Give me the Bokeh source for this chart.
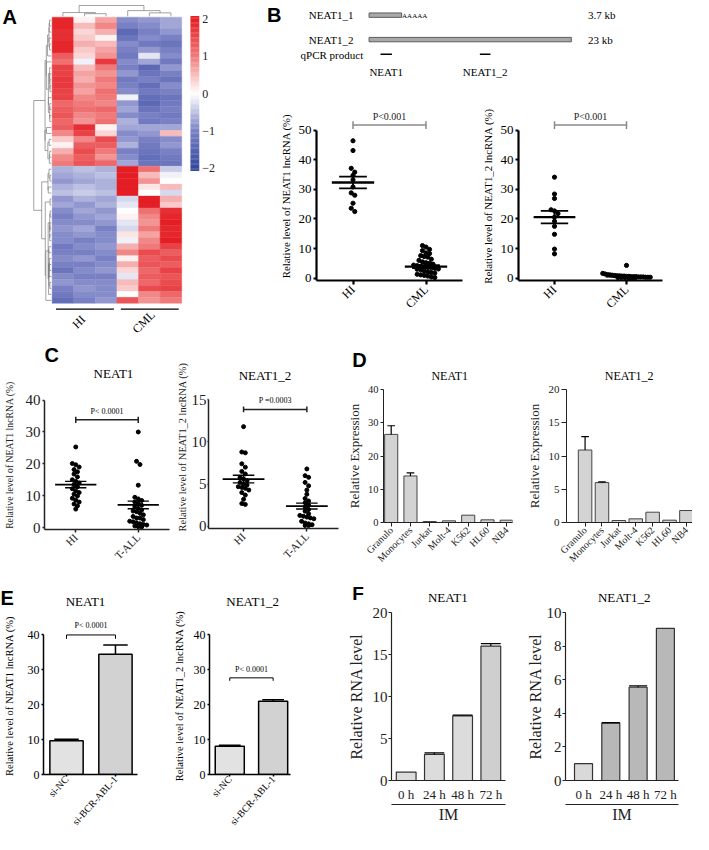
import numpy as np
from math import pi, radians
from bokeh.plotting import figure
from bokeh.models import Range1d, FixedTicker, Label, LinearAxis, ColumnDataSource
from bokeh.layouts import row, column
from bokeh.transform import linear_cmap
from bokeh.embed import file_html
from bokeh.resources import INLINE
from bokeh.core.properties import value

SERIF = "Liberation Serif"
SANS = "Liberation Sans"

# ============================ DATA ============================
# A: z-scored expression heatmap (rows = lncRNAs, columns = samples)
heat_samples = ["HI-1", "HI-2", "HI-3", "CML-1", "CML-2", "CML-3"]
heat_groups = ["HI", "CML"]
heat_group_sizes = [3, 3]
heat_rows = [
    [1.9, 0.1, 0.7, -0.9, -0.8, -0.7],
    [1.9, 0.5, 0.9, -1.0, -0.9, -0.7],
    [1.8, 0.3, 0.6, -1.4, -1.0, -0.8],
    [1.8, 0.4, 0.1, -1.2, -0.9, -1.0],
    [1.9, 0.6, 0.5, -0.9, -1.1, -1.2],
    [1.9, 0.4, 0.7, -1.0, -0.8, -1.0],
    [1.3, 0.3, 0.8, -1.1, -0.2, -0.9],
    [1.1, -0.1, 1.7, -0.9, -0.7, -1.1],
    [1.6, 0.5, 1.0, -1.0, -1.4, -0.8],
    [1.6, 0.7, 0.8, -0.8, -1.2, -1.0],
    [1.7, 0.6, 1.0, -1.1, -1.0, -1.2],
    [1.7, 0.8, 0.9, -1.0, -1.3, -0.9],
    [1.6, 0.7, 1.1, -0.9, -1.1, -1.0],
    [1.6, 0.9, 1.0, -0.1, -1.3, -1.2],
    [1.2, 1.0, 0.9, -0.8, -1.4, -1.1],
    [1.3, 1.1, 1.2, -0.7, -1.2, -1.0],
    [1.4, 0.9, 1.0, -0.9, -1.0, -1.1],
    [1.2, 0.8, 1.1, -0.6, -1.1, -1.0],
    [1.3, 1.8, 0.1, -0.7, -0.7, -0.7],
    [0.9, 1.6, 0.3, -0.9, -0.8, 0.5],
    [0.4, 0.9, 1.5, -0.8, -1.0, -0.9],
    [0.1, 1.3, 1.3, -0.6, -1.1, -0.8],
    [0.6, 1.5, 1.0, -1.0, -1.2, -1.0],
    [0.9, 1.3, 0.8, -0.9, -1.3, -1.1],
    [1.0, 1.4, 1.2, -0.7, -1.2, -1.2],
    [-0.6, -0.5, -0.6, 2.0, 1.1, -0.4],
    [-0.7, -0.6, -0.5, 2.0, 0.5, -0.1],
    [-0.8, -0.7, -0.6, 2.0, 0.8, 0.0],
    [-0.6, -0.5, -0.6, 2.0, 0.2, 0.5],
    [-0.5, -0.4, -0.5, 2.0, 0.0, -0.3],
    [-0.8, -0.6, -0.7, -0.3, 2.0, 0.6],
    [-0.7, -0.8, -0.6, -0.2, 2.0, 0.4],
    [-0.9, -0.7, -0.8, 0.0, 1.1, 1.8],
    [-1.0, -0.8, -0.7, 0.1, 0.9, 1.9],
    [-0.9, -0.9, -0.8, -0.2, 0.8, 2.0],
    [-0.8, -0.7, -1.0, -0.3, 1.0, 1.9],
    [-0.9, -0.8, -0.9, 0.2, 0.7, 1.9],
    [-0.9, -1.0, -0.9, -0.1, 0.9, 2.0],
    [-1.1, -0.9, -0.8, 0.6, 1.0, 1.6],
    [-1.0, -1.0, -0.9, 0.9, 1.5, 1.3],
    [-0.9, -0.8, -1.0, 0.1, 1.3, 1.5],
    [-1.0, -1.0, -0.9, 0.6, 1.4, 1.3],
    [-1.2, -0.9, -0.8, 0.3, 1.2, 1.6],
    [-0.9, -1.0, -1.0, -0.2, 1.3, 1.4],
    [-0.8, -0.9, -0.9, 0.5, 1.2, 1.5],
    [-1.0, -0.8, -0.9, 0.4, 1.5, 1.6],
    [-1.1, -0.9, -0.9, 0.0, 0.9, 1.2],
    [-1.3, -1.0, -0.8, 1.4, 0.8, 1.0],
]
heat_scale_ticks = [2, 1, 0, -1, -2]
heat_scale_text = ["2", "1", "0", "\u22121", "\u22122"]

# B (top): NEAT1 isoforms and qPCR amplicons
iso_names = ["NEAT1_1", "NEAT1_2"]
iso_len_kb = [3.7, 23.0]
iso_len_text = ["3.7 kb", "23  kb"]
amp_names = ["NEAT1", "NEAT1_2"]
amp_start_kb = [1.3, 12.6]
amp_end_kb = [2.6, 13.8]

# B (bottom): HI vs CML
B_groups = ["HI", "CML"]
B_neat1_HI = [46.4, 43.1, 37.1, 35.8, 34.7, 33.2, 30.8, 28.8, 28.0, 25.3, 23.6, 22.5]
B_neat1_CML = [11.0, 10.5, 9.7, 9.3, 8.5, 8.3, 7.6, 7.3, 7.1, 6.4, 6.0, 5.5, 5.2, 5.0, 4.7,
               4.4, 4.2, 4.0, 3.8, 3.6, 3.5, 3.3, 3.1, 3.0, 2.8, 2.4, 2.1, 1.9, 1.7, 1.3,
               1.1, 0.9, 0.7, 0.4, 0.2]
B_neat1_mean = [32.3, 3.9]
B_neat1_sem = [2.0, 0.5]
B_neat12_HI = [34.1, 28.4, 26.9, 23.1, 22.7, 21.8, 20.6, 19.2, 17.5, 14.8, 9.8, 8.2]
B_neat12_CML = [4.3, 1.6, 1.4, 1.2, 1.1, 1.0, 0.9, 0.8, 0.8, 0.7, 0.7, 0.6, 0.6, 0.5, 0.5,
                0.5, 0.4, 0.4, 0.4, 0.3, 0.3, 0.3, 0.2, 0.2, 0.2, 0.1, 0.1, 0.1]
B_neat12_mean = [20.6, 0.6]
B_neat12_sem = [2.1, 0.15]
B_p_text = "P<0.001"

# C: HI vs T-ALL
C_groups = ["HI", "T-ALL"]
C_neat1_HI = [25.3, 20.1, 19.7, 19.0, 18.2, 17.5, 16.8, 15.9, 15.0, 14.5, 14.0, 13.5,
              12.8, 12.2, 11.5, 11.0, 10.5, 9.9, 9.2, 8.6, 8.0, 7.4, 6.8, 5.8]
C_neat1_TALL = [30.0, 20.8, 19.8, 13.3, 9.5, 9.0, 8.5, 8.0, 7.5, 7.0, 6.5, 6.0, 5.5, 5.2,
                5.0, 4.5, 4.0, 3.5, 3.0, 3.0, 2.5, 2.0, 1.8, 1.5, 1.2, 1.0, 0.8, 0.5, 0.3, 0.2]
C_neat1_mean = [13.5, 7.1]
C_neat1_sem = [1.0, 1.2]
C_neat12_HI = [11.8, 8.8, 8.7, 7.4, 7.0, 6.5, 6.2, 5.8, 5.6, 5.4, 5.2, 5.0, 4.9, 4.7, 4.6,
               4.5, 4.3, 4.0, 3.7, 3.2, 2.7, 2.6]
C_neat12_TALL = [6.8, 6.0, 5.8, 5.2, 4.8, 4.3, 3.8, 3.3, 3.0, 2.8, 2.5, 2.3, 2.0, 1.8, 1.5,
                 1.3, 1.2, 1.1, 1.0, 0.9, 0.6, 0.4, 0.3, 0.2, 0.1, 0.1]
C_neat12_mean = [5.6, 2.4]
C_neat12_sem = [0.45, 0.35]
C_p_text = ["P< 0.0001", "P =0.0003"]

# D: cell types
D_cells = ["Granulo", "Monocytes", "Jurkat", "Molt-4", "K562", "HL60", "NB4"]
D_neat1 = [26.5, 14.0, 0.3, 0.5, 2.2, 0.8, 0.7]
D_neat1_err = [2.6, 0.9, 0.0, 0.0, 0.0, 0.0, 0.0]
D_neat12 = [10.9, 6.0, 0.3, 0.55, 1.55, 0.35, 1.8]
D_neat12_err = [2.0, 0.1, 0.0, 0.0, 0.0, 0.0, 0.0]

# E: knock-down
E_groups = ["si-NC", "si-BCR-ABL-1"]
E_neat1 = [9.7, 34.5]
E_neat1_err = [0.4, 2.6]
E_neat12 = [8.1, 21.0]
E_neat12_err = [0.3, 0.4]
E_p_text = "P< 0.0001"

# F: imatinib time course
F_times = ["0 h", "24 h", "48 h", "72 h"]
F_treatment = "IM"
F_neat1 = [1.0, 3.1, 7.7, 16.0]
F_neat1_err = [0.0, 0.2, 0.08, 0.3]
F_neat12 = [1.0, 3.42, 5.55, 9.05]
F_neat12_err = [0.0, 0.03, 0.08, 0.0]

panel_titles = ["NEAT1", "NEAT1_2"]

# ============================ HELPERS ============================
SX, SY = 692 / 709, 833 / 850
LETTER = 20


def X(v):
    return int(round(v * SX))


def Y(v):
    return int(round(v * SY))


class Panel:
    def __init__(self, box, frame, xr, yr, axes=True):
        self.box, self.frame = box, frame
        x0, y0, x1, y1 = box
        fx0, fy0, fx1, fy1 = frame
        kw = {} if axes else dict(x_axis_location=None, y_axis_location=None)
        p = figure(width=X(x1) - X(x0), height=Y(y1) - Y(y0),
                   x_range=Range1d(start=xr[0], end=xr[1]),
                   y_range=Range1d(start=yr[0], end=yr[1]),
                   min_border_left=X(fx0) - X(x0), min_border_right=X(x1) - X(fx1),
                   min_border_top=Y(fy0) - Y(y0), min_border_bottom=Y(y1) - Y(fy1),
                   output_backend="svg", toolbar_location=None, title=None, **kw)
        p.outline_line_color = None
        p.grid.grid_line_color = None
        p.background_fill_color = "white"
        p.border_fill_color = "white"
        self.p = p

    def label(self, rx, ry, text, size, align="center", baseline="middle", font=SERIF,
              style="normal", angle=0.0, color="black"):
        fx0, fy0, fx1, fy1 = self.frame
        self.p.add_layout(Label(x=rx * SX - X(fx0), y=Y(fy1) - ry * SY,
                                x_units="screen", y_units="screen", text=text,
                                text_font=font, text_font_size=f"{size}px",
                                text_font_style=style, text_align=align,
                                text_baseline=baseline, angle=angle, text_color=color))

    def letter(self, rx, ry, t):
        self.label(rx, ry, t, LETTER, align="left", baseline="top", font=SANS, style="bold")


def strip(box):
    # header strip: whole figure is the frame, data units = reference pixels
    x0, y0, x1, y1 = box
    return Panel(box, box, (x0, x1), (y1, y0), axes=False)


def axes_style(p, xticks, xlabels, yticks, ybounds, ylabel, lw=1.5, col="black",
               xsize=12, xorient=pi / 4, xstand=3, xtick_out=4, ysize=13, ystand=2,
               ytick_out=3, ylsize=12, ylstand=2):
    xa, ya = p.xaxis[0], p.yaxis[0]
    for a in (xa, ya):
        a.axis_line_width = lw
        a.axis_line_color = col
        a.major_tick_line_color = col
        a.major_tick_line_width = lw
        a.minor_tick_line_color = None
        a.major_tick_in = 0
        a.major_label_text_font = SERIF
        a.major_label_text_color = col
        a.axis_label_text_font = SERIF
        a.axis_label_text_font_style = "normal"
        a.axis_label_text_color = col
    xa.ticker = FixedTicker(ticks=list(xticks))
    xa.major_label_overrides = {t: l for t, l in zip(xticks, xlabels)}
    xa.major_label_orientation = xorient
    xa.major_tick_out = xtick_out
    if xtick_out == 0:
        xa.major_tick_line_color = None
    xa.major_label_text_font_size = f"{xsize}px"
    xa.major_label_standoff = xstand
    ya.ticker = FixedTicker(ticks=list(yticks))
    ya.bounds = ybounds
    ya.major_tick_out = ytick_out
    ya.major_label_text_font_size = f"{ysize}px"
    ya.major_label_standoff = ystand
    ya.axis_label = ylabel
    ya.axis_label_text_font_size = f"{ylsize}px"
    ya.axis_label_standoff = ylstand


def swarm_x(vals, center, binw, dx, maxw):
    v = np.asarray(vals, float)
    xs = np.full(len(v), float(center))
    groups, cur, start = [], [], None
    for i in np.argsort(-v, kind="stable"):
        if cur and start - v[i] >= binw:
            groups.append(cur)
            cur = []
        if not cur:
            start = v[i]
        cur.append(i)
    if cur:
        groups.append(cur)
    for g in groups:
        n = len(g)
        step = dx if n < 2 or (n - 1) * dx <= 2 * maxw else 2 * maxw / (n - 1)
        for k, i in enumerate(g):
            xs[i] = center + (k - (n - 1) / 2) * step
    return xs


def bracket(p, x0, x1, y, tick, color, lw, legs_down=False):
    if legs_down:
        p.segment([x0, x0, x1], [y, y, y], [x1, x0, x1], [y, y - tick, y - tick],
                  line_color=color, line_width=lw)
    else:
        p.segment([x0, x0, x1], [y, y - tick, y - tick], [x1, x0, x1], [y, y + tick, y + tick],
                  line_color=color, line_width=lw)


def ptext(p, x, y, t, size, color="black"):
    p.text([x], [y], [t], text_font=value(SERIF), text_font_size=f"{size}px",
           text_align="center", text_baseline="middle", text_color=color)


def rtext(P, rx, ry, t, size, align="center", baseline="middle", font=SERIF, style="normal"):
    P.p.text([rx], [ry], [t], text_font=value(font), text_font_size=f"{size}px",
             text_font_style=style, text_align=align, text_baseline=baseline, text_color="black")


def rletter(P, rx, ry, t, size=LETTER):
    rtext(P, rx, ry, t, size, align="left", baseline="top", font=SANS, style="bold")


def dot_panel(box, frame, xr, yr, series, means, sems, groups, yticks, ylabel, ppx, ppy,
              ax, mean_hw, sem_hw, mean_lw, dot, maxw):
    P = Panel(box, frame, xr, yr)
    p = P.p
    pos = np.array([1.0, 2.0])
    for c, vals in zip(pos, series):
        xs = swarm_x(vals, c, 4.0 / ppy, 3.6 / ppx, maxw)
        p.scatter(xs, vals, size=dot, color="black")
    m = np.array(means)
    s = np.array(sems)
    p.segment(pos - mean_hw, m, pos + mean_hw, m, line_color="black", line_width=mean_lw)
    for yy in (m - s, m + s):
        p.segment(pos - sem_hw, yy, pos + sem_hw, yy, line_color="black", line_width=mean_lw * 0.8)
    p.segment(pos, m - s, pos, m + s, line_color="black", line_width=mean_lw * 0.8)
    axes_style(p, [1, 2], groups, yticks, (yr[0], yticks[-1]), ylabel, **ax)
    return P


def bar_panel(box, frame, xr, yr, vals, errs, colors, width, cap_w, outline, olw,
              xlabels, yticks, ylabel, ax, err_lw=1.2):
    P = Panel(box, frame, xr, yr)
    p = P.p
    xs = list(range(len(vals)))
    p.vbar(x=xs, top=vals, bottom=0, width=width, fill_color=colors,
           line_color=outline, line_width=olw)
    ex = [x for x, e in zip(xs, errs) if e > 0]
    ev = [v for v, e in zip(vals, errs) if e > 0]
    ee = [v + e for v, e in zip(vals, errs) if e > 0]
    if ex:
        p.segment(ex, ev, ex, ee, line_color="black", line_width=err_lw)
        p.segment([x - cap_w / 2 for x in ex], ee, [x + cap_w / 2 for x in ex], ee,
                  line_color="black", line_width=err_lw)
    axes_style(p, xs, xlabels, yticks, (0, yticks[-1]), ylabel, **ax)
    return P


def build_palette():
    stops = [(-2.0, (52, 72, 156)), (-1.0, (120, 128, 196)), (0.0, (255, 255, 255)),
             (1.0, (240, 122, 122)), (2.0, (228, 30, 36))]
    pal = []
    for k in range(256):
        v = -2 + 4 * k / 255
        c = stops[-1][1]
        for (v0, c0), (v1, c1) in zip(stops[:-1], stops[1:]):
            if v <= v1 + 1e-9:
                t = (v - v0) / (v1 - v0)
                c = tuple(int(round(a + (b - a) * t)) for a, b in zip(c0, c1))
                break
        pal.append("#%02x%02x%02x" % c)
    return pal


def contiguous_linkage(M):
    M = np.asarray(M, float)
    n = len(M)
    D = np.sqrt(((M[:, None, :] - M[None, :, :]) ** 2).sum(-1))
    members = [[i] for i in range(n)]
    pos = [i + 0.5 for i in range(n)]
    hts = [0.0] * n
    links = []
    while len(members) > 1:
        best_k, best_d = 0, None
        for k in range(len(members) - 1):
            d = D[np.ix_(members[k], members[k + 1])].mean()
            if best_d is None or d < best_d:
                best_d, best_k = d, k
        k = best_k
        h = max(best_d, hts[k], hts[k + 1])
        links.append((pos[k], hts[k], pos[k + 1], hts[k + 1], h))
        members[k] = members[k] + members[k + 1]
        pos[k] = (pos[k] + pos[k + 1]) / 2
        hts[k] = h
        del members[k + 1], pos[k + 1], hts[k + 1]
    return links, hts[0]


PAL = build_palette()

# ============================ PANEL A ============================
heat = np.array(heat_rows, float)
nr, nc = heat.shape
A_box = (0, 0, 272, 350)
HX0, HX1, HY0, HY1 = 53.0, 186.0, 17.0, 309.0
cpx = (HX1 - HX0) / nc
rpx = (HY1 - HY0) / nr
A = Panel(A_box, A_box, ((0 - HX0) / cpx, (272 - HX0) / cpx),
          ((350 - HY0) / rpx, (0 - HY0) / rpx), axes=False)
pa = A.p
jj, ii = np.meshgrid(np.arange(nc), np.arange(nr))
cm = linear_cmap("v", PAL, -2, 2)
cells = ColumnDataSource(dict(x=(jj + 0.5).ravel(), y=(ii + 0.5).ravel(), v=heat.ravel()))
pa.rect("x", "y", width=1, height=1, source=cells, fill_color=cm, line_color=cm, line_width=0.4)

rlinks, rH = contiguous_linkage(heat)
rdepth = 18.0 / cpx
xs, ys = [], []
for p0, h0, p1, h1, h in rlinks:
    xs.append([-0.04 - q / rH * rdepth for q in (h0, h, h, h1)])
    ys.append([p0, p0, p1, p1])
pa.multi_line(xs, ys, line_color="#7a7a7a", line_width=0.7)

clinks, cH = contiguous_linkage(heat.T)
cdepth = 11.0 / rpx
xs, ys = [], []
for p0, h0, p1, h1, h in clinks:
    xs.append([p0, p0, p1, p1])
    ys.append([-0.15 - q / cH * cdepth for q in (h0, h, h, h1)])
pa.multi_line(xs, ys, line_color="#7a7a7a", line_width=0.7)

CB_X0, CB_X1, CB_ZERO, CB_UNIT = 195.0, 204.0, 95.0, 38.2
zz = np.linspace(-2.05, 2.05, 124)
cb = ColumnDataSource(dict(x=np.full(zz.size, ((CB_X0 + CB_X1) / 2 - HX0) / cpx),
                           y=(CB_ZERO - CB_UNIT * zz - HY0) / rpx, v=zz))
pa.rect("x", "y", width=(CB_X1 - CB_X0) / cpx, height=(zz[1] - zz[0]) * CB_UNIT / rpx * 1.2,
        source=cb, fill_color=cm, line_color=None)
pa.text(x=(207 - HX0) / cpx,
        y=list((CB_ZERO - CB_UNIT * np.array(heat_scale_ticks, float) - HY0) / rpx),
        text=heat_scale_text, text_font=value(SERIF), text_font_size="12px",
        text_align="left", text_baseline="middle", text_color="#222222")

gs = np.cumsum([0] + heat_group_sizes[:-1])
ge = gs + np.array(heat_group_sizes)
uly = (315 - HY0) / rpx
pa.segment(list(gs + 0.18), uly, list(ge - 0.14), uly, line_color="black", line_width=1.2)
for gname, s, e in zip(heat_groups, gs, ge):
    A.label(HX0 + (s + e) / 2 * cpx - 6, 328, gname, 12, angle=pi / 4)
A.letter(2, 6, "A")

# ============================ PANEL B (gene model) ============================
Bd_box = (272, 0, 709, 88)
G0 = 378.0
kpx = (585.0 - G0) / iso_len_kb[1]
TY0, TPX = 15.0, 25.0
Bd = Panel(Bd_box, Bd_box, ((272 - G0) / kpx, (709 - G0) / kpx),
           ((88 - TY0) / TPX, (0 - TY0) / TPX), axes=False)
pb = Bd.p
iy = list(range(len(iso_names)))
pb.hbar(y=iy, left=0, right=iso_len_kb, height=4.5 / TPX, fill_color="#a9a9a9",
        line_color="#5c5c5c", line_width=1)
pb.text(x=(362 - G0) / kpx, y=iy, text=iso_names, text_font=value(SERIF), text_font_size="11px",
        text_align="right", text_baseline="middle")
pb.text(x=[iso_len_kb[0] + 0.05], y=[0.04], text=["AAAAA"], text_font=value(SERIF),
        text_font_size="7px", text_align="left", text_baseline="middle")
pb.text(x=(602 - G0) / kpx, y=iy, text=iso_len_text, text_font=value(SERIF),
        text_font_size="11px", text_align="left", text_baseline="middle")
pb.text(x=[(372 - G0) / kpx], y=[(56 - TY0) / TPX], text=["qPCR product"], text_font=value(SERIF),
        text_font_size="11px", text_align="right", text_baseline="middle")
amp_y = (55 - TY0) / TPX
pb.segment(amp_start_kb, amp_y, amp_end_kb, amp_y, line_color="black", line_width=1.6)
pb.text(x=[(a + b) / 2 for a, b in zip(amp_start_kb, amp_end_kb)], y=(73 - TY0) / TPX,
        text=amp_names, text_font=value(SERIF), text_font_size="11px",
        text_align="center", text_baseline="middle")
Bd.letter(273, 4, "B")

# ============================ PANEL B (scatter) ============================
BY0, BPY = 283.0, 3.02
B_TOP = 113.0
B_ax = dict(lw=2.2, xsize=12, xstand=3, xtick_out=4, ysize=13, ystand=2, ytick_out=3,
            ylsize=10.8, ylstand=4)
b_frame_y = (B_TOP, BY0 + 0.8 * BPY)
b_yr = (-0.8, (BY0 - B_TOP) / BPY)
Bl = dot_panel((272, 88, 490, 350), (324, b_frame_y[0], 473, b_frame_y[1]), (0.5, 2.5), b_yr,
               [B_neat1_HI, B_neat1_CML], B_neat1_mean, B_neat1_sem, B_groups,
               [0, 10, 20, 30, 40, 50], "Relative level of NEAT1 lncRNA (%)", 74.5, BPY,
               B_ax, 0.29, 0.19, 2.3, 4.2, 0.33)
Br = dot_panel((490, 88, 709, 350), (528.5, b_frame_y[0], 678.5, b_frame_y[1]), (0.5, 2.5), b_yr,
               [B_neat12_HI, B_neat12_CML], B_neat12_mean, B_neat12_sem, B_groups,
               [0, 10, 20, 30, 40, 50], "Relative level of NEAT1_2 lncRNA (%)", 75.0, BPY,
               B_ax, 0.29, 0.19, 2.3, 4.2, 0.33)
for P in (Bl, Br):
    bracket(P.p, 1, 2, 51.7, 1.3, "#8a8a8a", 1.5)
    ptext(P.p, 1.5, 54.6, B_p_text, 10, "#222222")

# ============================ PANEL C ============================
Cs = strip((0, 350, 174, 388))
rletter(Cs, 0, 351, "C")
rtext(Cs, 96, 380.5, panel_titles[0], 13)

C_ax = dict(lw=1.5, col="#222222", xsize=11, xstand=3, xtick_out=3, ysize=15, ystand=2,
            ytick_out=2, ylsize=9.7, ylstand=8)
Cl = dot_panel((0, 388, 174, 595), (41, 388, 173, 538 + 0.6 * 3.25), (0.5, 2.5),
               (-0.6, (538 - 388) / 3.25),
               [C_neat1_HI, C_neat1_TALL], C_neat1_mean, C_neat1_sem, C_groups,
               [0, 10, 20, 30, 40], "Relative level of NEAT1 lncRNA (%)", 66.0, 3.25,
               C_ax, 0.33, 0.17, 1.8, 4.0, 0.3)
C_ax2 = dict(C_ax, ystand=1, ytick_out=1, ylsize=10.4, ylstand=1)
Cr = dot_panel((174, 350, 350, 595), (213, 372, 346.5, 537 + 0.25 * 8.67),
               (0.446, 2.5), (-0.25, (537 - 372) / 8.67),
               [C_neat12_HI, C_neat12_TALL], C_neat12_mean, C_neat12_sem, C_groups,
               [0, 5, 10, 15], "Relative level of NEAT1_2 lncRNA (%)", 65.0, 8.67,
               C_ax2, 0.33, 0.17, 1.8, 4.0, 0.3)
Cr.label(271, 383, panel_titles[1], 13)
bracket(Cl.p, 1, 2, 33.8, 1.0, "#222222", 1.5)
ptext(Cl.p, 1.5, 36.4, C_p_text[0], 8)
bracket(Cr.p, 1, 2, 13.84, 0.35, "#222222", 1.5)
ptext(Cr.p, 1.5, 14.9, C_p_text[1], 8)

# ============================ PANEL D ============================
Ds = strip((350, 350, 709, 390))
rletter(Ds, 360, 356, "D")
rtext(Ds, 460, 383, panel_titles[0], 12)
rtext(Ds, 644, 383, panel_titles[1], 12)

D_ax = dict(lw=1, col="#222222", xsize=10, xstand=2, xtick_out=4, ysize=10.5, ystand=2,
            ytick_out=3, ylsize=13, ylstand=3)
Dl = bar_panel((350, 390, 536, 595), (392, 396, 525, 534), (-0.40, 6.3), (0, 40),
               D_neat1, D_neat1_err, ["#d3d3d3"] * 7, 0.68, 0.4, "#444444", 1,
               D_cells, [0, 10, 20, 30, 40], "Relative Expression", D_ax)
Dr = bar_panel((536, 390, 709, 595), (580, 397, 709, 533), (-1.1, 6.36), (0, 20),
               D_neat12, D_neat12_err, ["#d3d3d3"] * 7, 0.8, 0.45, "#444444", 1,
               D_cells, [0, 5, 10, 15, 20], "Relative Expression",
               dict(D_ax, ysize=11, ytick_out=5, ylstand=4))

# ============================ PANEL E ============================
Es = strip((0, 595, 350, 621))
rletter(Es, 0, 598, "E")
rtext(Es, 87, 613, panel_titles[0], 13)
rtext(Es, 258, 613, panel_titles[1], 13)

E_ax = dict(lw=1.5, xsize=10, xorient=radians(48), xstand=1, xtick_out=2, ysize=12, ystand=2,
            ytick_out=2, ylsize=10.5, ylstand=10)
El = bar_panel((0, 621, 174, 850), (38, 791 - 45 * 3.6, 140, 791), (-0.47, 1.45), (0, 45),
               E_neat1, E_neat1_err, ["#e2e2e2", "#d2d2d2"], 0.68, 0.5, "black", 1.5,
               E_groups, [0, 10, 20, 30, 40], "Relative level of NEAT1 lncRNA (%)", E_ax, 1.5)
Er = bar_panel((174, 621, 350, 850), (211, 790 - 45 * 3.575, 297, 790), (-0.467, 1.4), (0, 45),
               E_neat12, E_neat12_err, ["#e2e2e2", "#d2d2d2"], 0.67, 0.5, "black", 1.5,
               E_groups, [0, 10, 20, 30, 40], "Relative level of NEAT1_2 lncRNA (%)",
               dict(E_ax, ylstand=6), 1.5)
bracket(El.p, 0, 1, 40.0, 1.1, "black", 1, legs_down=True)
ptext(El.p, 0.5, 42.8, E_p_text, 8)
bracket(Er.p, 0, 1, 27.7, 0.85, "black", 1, legs_down=True)
ptext(Er.p, 0.5, 30.2, E_p_text, 8)

# ============================ PANEL F ============================
Fs = strip((350, 595, 709, 616))
rletter(Fs, 360, 594.5, "F", 19)
rtext(Fs, 458, 608.5, panel_titles[0], 13)
rtext(Fs, 639, 608.5, panel_titles[1], 13)

F_ax = dict(lw=1.2, col="#222222", xsize=13, xorient="horizontal", xstand=6, xtick_out=0,
            ysize=15, ystand=1, ytick_out=3, ylsize=16, ylstand=5)
Fl = bar_panel((350, 616, 536, 850), (401, 625, 517, 796), (-0.52, 3.52), (0, 20),
               F_neat1, F_neat1_err, ["#dcdcdc", "#dcdcdc", "#dcdcdc", "#cfcfcf"], 0.7, 0.7,
               "#333333", 1.2, F_times, [0, 5, 10, 15, 20], "Relative RNA level", F_ax)
Fr = bar_panel((536, 616, 709, 850), (576, 625, 695, 796), (-0.66, 3.48), (0, 10),
               F_neat12, F_neat12_err, ["#d9d9d9", "#b8b8b8", "#b8b8b8", "#b8b8b8"], 0.66, 0.66,
               "#333333", 1.2, F_times, [0, 2, 4, 6, 8, 10], "Relative RNA level",
               dict(F_ax, ylstand=0))
for P in (Fl, Fr):
    ax2 = LinearAxis(ticker=FixedTicker(ticks=[]), axis_label=F_treatment,
                     axis_line_width=1.2, axis_line_color="#222222",
                     major_tick_line_color=None, minor_tick_line_color=None,
                     major_tick_out=0, major_tick_in=0, major_label_standoff=0,
                     axis_label_text_font=SERIF, axis_label_text_font_style="normal",
                     axis_label_text_font_size="16px", axis_label_standoff=1,
                     axis_label_text_color="#222222")
    P.p.add_layout(ax2, "below")

# ============================ LAYOUT ============================
top = row(A.p, column(Bd.p, row(Bl.p, Br.p)))
mid = row(row(column(Cs.p, Cl.p), Cr.p), column(Ds.p, row(Dl.p, Dr.p)))
bot = row(column(Es.p, row(El.p, Er.p)), column(Fs.p, row(Fl.p, Fr.p)))
layout = column(top, mid, bot)

open("out.html", "w").write(file_html(layout, INLINE, title="NEAT1 figure"))
